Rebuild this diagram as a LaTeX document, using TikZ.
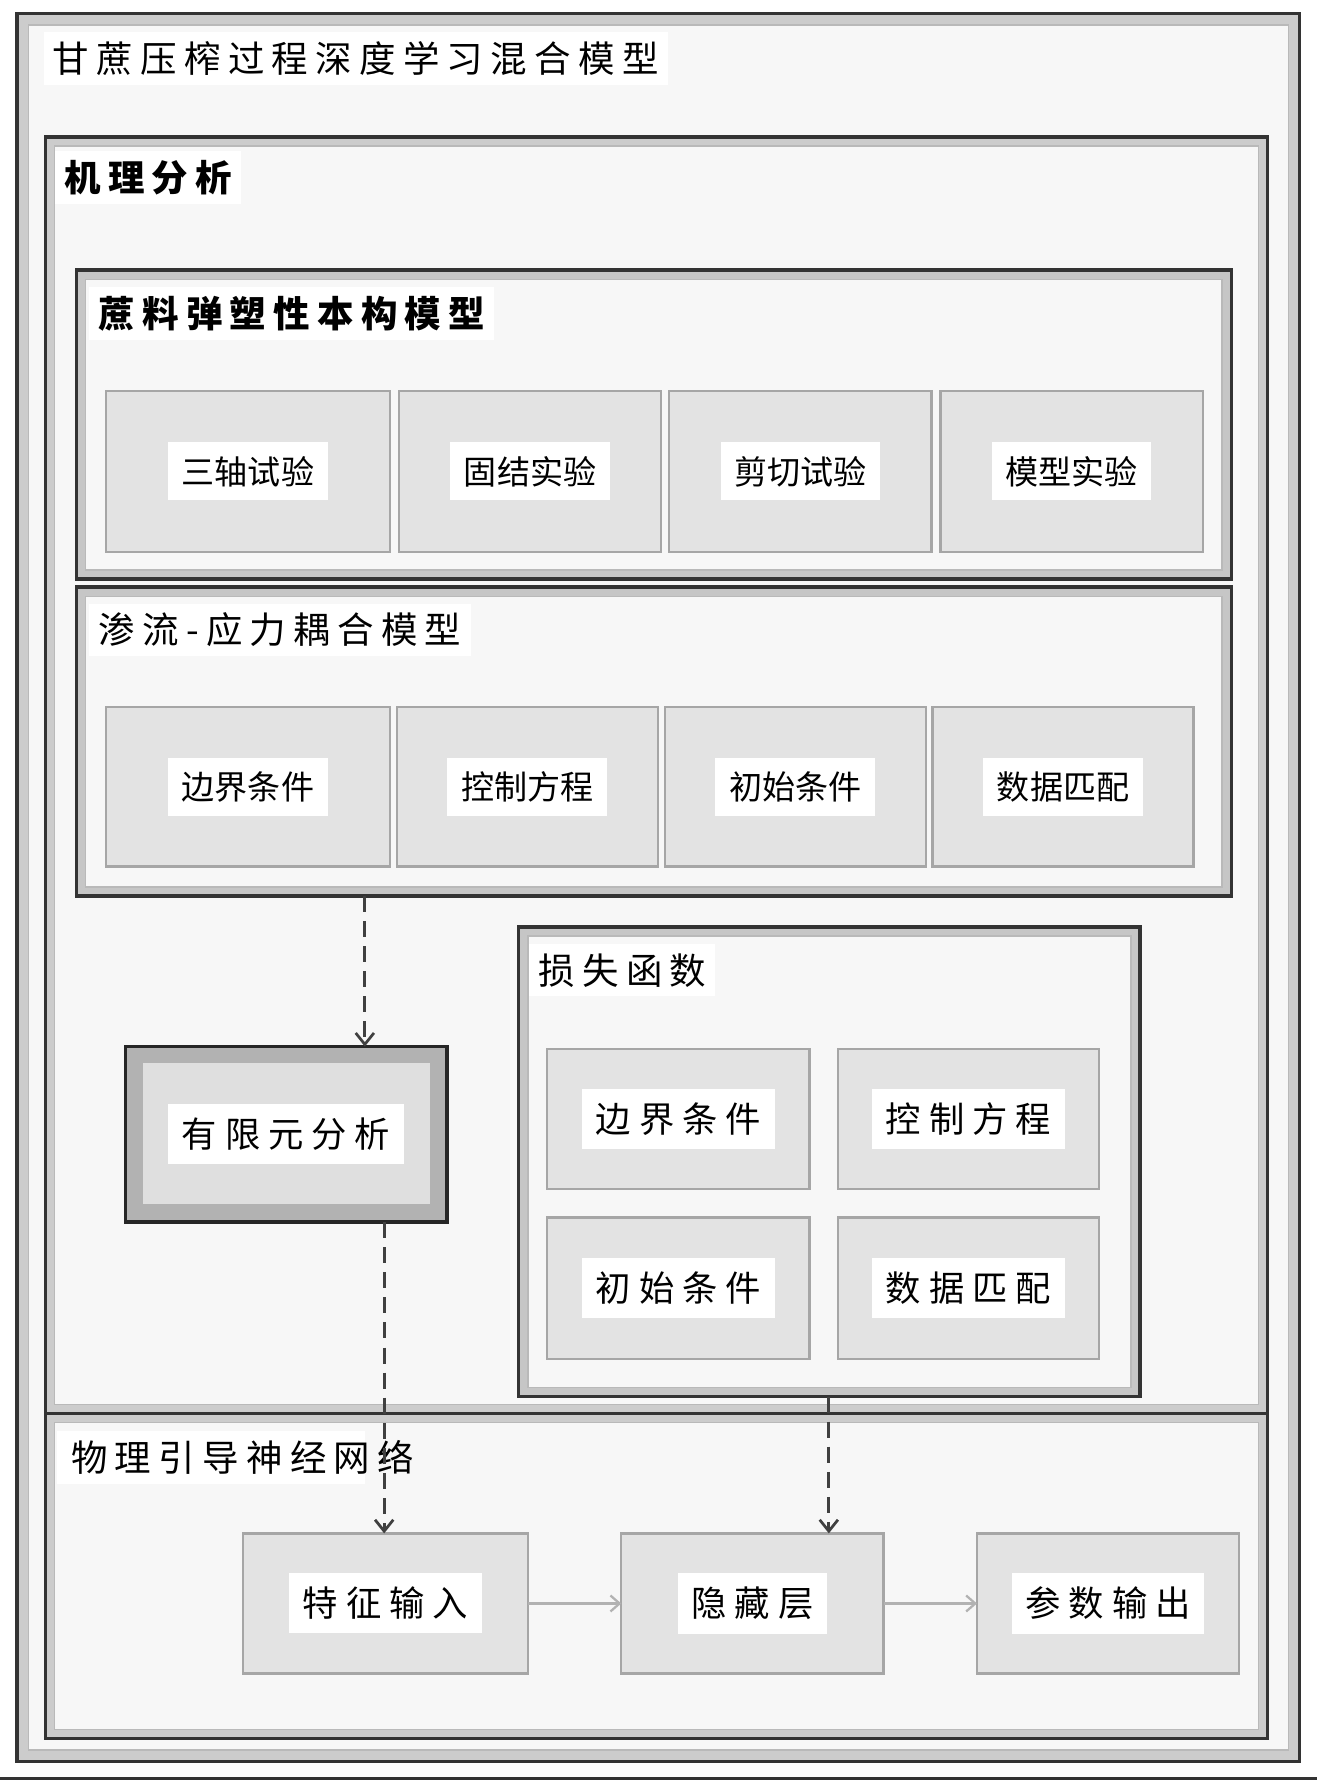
\documentclass[tikz,border=0pt]{standalone}
\usepackage{fontspec}
\setmainfont{Noto Sans CJK SC}
\usetikzlibrary{arrows.meta}
\newcommand\bx[6]{\node[#6, minimum width={(#4-#2)*0.5pt}, minimum height={(#5-#3)*0.5pt}, inner sep=0pt, outer sep=0pt] (#1) at ({(#2+#4)/2},{(#3+#5)/2}) {};}
\newcommand\bev[7]{% name x1 y1 x2 y2 inset bandcolor
  \bx{#1}{#2}{#3}{#4}{#5}{draw=black!80, line width=1.5pt, fill=#7}
  \fill[gray!6] ({#2+#6},{#3+#6}) rectangle ({#4-#6},{#5-#6});
  \draw[gray!55, line width=0.6pt] ({#2+#6},{#3+#6}) rectangle ({#4-#6},{#5-#6});}
\tikzset{
  sub/.style={draw=gray!70, line width=1pt, fill=gray!22},
  lab/.style={fill=white, inner sep=4pt, anchor=north west, font=\fontsize{15}{18}\selectfont},
  wl/.style={fill=white, inner xsep=6pt, inner ysep=6pt, font=\fontsize{14.5}{17}\selectfont},
  dsh/.style={dashed, dash pattern=on 7pt off 4pt, line width=1.2pt, black!75, -{Straight Barb[length=5pt,width=8pt]}},
  sol/.style={line width=1pt, gray!60, -{Straight Barb[length=4pt,width=7pt]}}
}
\begin{document}
\begin{tikzpicture}[x=0.5pt,y=-0.5pt]
\useasboundingbox (0,0) rectangle (1155,1571);
\fill[white] (0,0) rectangle (1155,1571);
\draw[black!80, line width=1pt] (0,1560) -- (1155,1560);
% outer frame
\bev{outer}{15}{12}{1140}{1545}{10}{gray!40}
\node[lab, font=\fontsize{16}{19}\selectfont\addfontfeature{LetterSpace=20}] at (38,28) {甘蔗压榨过程深度学习混合模型};
% mechanism
\bev{mech}{40}{120}{1112}{1240}{8}{gray!40}
\node[lab, font=\bfseries\fontsize{16}{19}\selectfont\addfontfeature{LetterSpace=20}] at (48,132) {机理分析};
% cane model
\bev{cane}{67}{237}{1080}{508}{8}{gray!45}
\node[lab, font=\bfseries\fontsize{16}{19}\selectfont\addfontfeature{LetterSpace=20}] at (78,251) {蔗料弹塑性本构模型};
\bx{c1}{93}{343}{342}{484}{sub}\node[wl] at (c1) {三轴试验};
\bx{c2}{350}{343}{580}{484}{sub}\node[wl] at (c2) {固结实验};
\bx{c3}{587}{343}{817}{484}{sub}\node[wl] at (c3) {剪切试验};
\bx{c4}{825}{343}{1055}{484}{sub}\node[wl] at (c4) {模型实验};
% seepage
\bev{seep}{67}{515}{1080}{786}{8}{gray!45}
\node[lab, font=\fontsize{16}{19}\selectfont\addfontfeature{LetterSpace=20}] at (78,529) {渗流-应力耦合模型};
\bx{s1}{93}{620}{342}{760}{sub}\node[wl] at (s1) {边界条件};
\bx{s2}{348}{620}{577}{760}{sub}\node[wl] at (s2) {控制方程};
\bx{s3}{583}{620}{812}{760}{sub}\node[wl] at (s3) {初始条件};
\bx{s4}{818}{620}{1047}{760}{sub}\node[wl] at (s4) {数据匹配};
% FEM
\bx{fem}{110}{918}{392}{1072}{draw=black!85, line width=1.5pt, fill=gray!60}
\fill[gray!25] (125,932) rectangle (377,1056);
\node[wl, font=\fontsize{15.5}{18}\selectfont] at (fem) {有 限 元 分 析};
% loss
\bev{loss}{455}{813}{1000}{1225}{8}{gray!45}
\node[lab, font=\fontsize{16}{19}\selectfont\addfontfeature{LetterSpace=20}] at (464,828) {损失函数};
\bx{l1}{480}{920}{710}{1043}{sub}\node[wl, font=\fontsize{15.5}{18}\selectfont] at (l1) {边 界 条 件};
\bx{l2}{735}{920}{964}{1043}{sub}\node[wl, font=\fontsize{15.5}{18}\selectfont] at (l2) {控 制 方 程};
\bx{l3}{480}{1068}{710}{1192}{sub}\node[wl, font=\fontsize{15.5}{18}\selectfont] at (l3) {初 始 条 件};
\bx{l4}{735}{1068}{964}{1192}{sub}\node[wl, font=\fontsize{15.5}{18}\selectfont] at (l4) {数 据 匹 配};
% PINN
\bev{pinn}{40}{1240}{1112}{1525}{8}{gray!40}
\fill[white] (50,1255) rectangle (320,1302);
\node[anchor=west, inner sep=0pt, font=\fontsize{16}{19}\selectfont\addfontfeature{LetterSpace=20}] at (62,1278) {物理引导神经网络};
\bx{p1}{213}{1345}{463}{1468}{sub}\node[wl, font=\fontsize{15.5}{18}\selectfont] at (p1) {特 征 输 入};
\bx{p2}{545}{1345}{775}{1468}{sub}\node[wl, font=\fontsize{15.5}{18}\selectfont] at (p2) {隐 藏 层};
\bx{p3}{857}{1345}{1087}{1468}{sub}\node[wl, font=\fontsize{15.5}{18}\selectfont] at (p3) {参 数 输 出};
% connectors
\draw[dsh] (seep.south -| 320,0) -- (fem.north -| 320,0);
\draw[dsh] (fem.south -| 337,0) -- (p1.north -| 337,0);
\draw[dsh] (loss.south -| 727,0) -- (p2.north -| 727,0);
\draw[sol] (p1) -- (p2);
\draw[sol] (p2) -- (p3);
\end{tikzpicture}
\end{document}
